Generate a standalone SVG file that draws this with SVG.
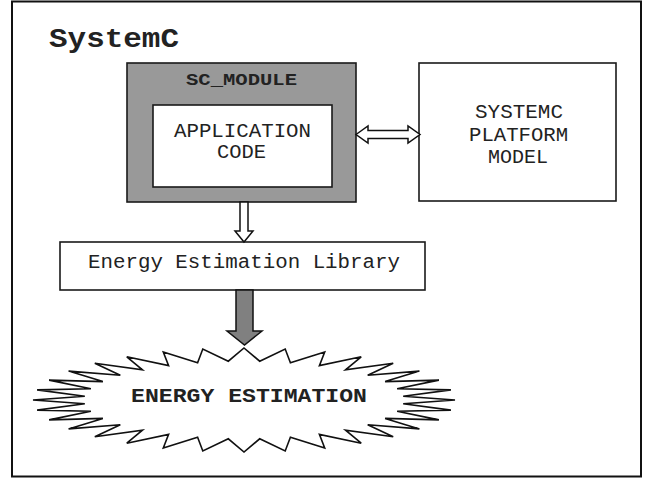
<svg xmlns="http://www.w3.org/2000/svg" width="655" height="479" viewBox="0 0 655 479">
<style>
.t{font-family:"Liberation Mono","Courier New",monospace;fill:#222;text-anchor:middle}
.b{font-weight:bold}
.box{stroke:#1a1a1a;stroke-width:1.6}
.arr{stroke:#111;stroke-width:1.5;stroke-linejoin:miter}
</style>
<rect width="655" height="479" fill="#fff"/>
<g id="frame">
<rect x="12" y="1.5" width="629" height="475" fill="none" stroke="#111" stroke-width="2"/>
<text class="t b" x="49" y="47" font-size="28" text-anchor="start" textLength="130" lengthAdjust="spacingAndGlyphs" style="text-anchor:start">SystemC</text>
</g>
<g id="sc_module">
<rect class="box" x="127" y="63" width="229" height="139" fill="#999"/>
<text class="t b" x="241.5" y="85" font-size="17" textLength="111" lengthAdjust="spacingAndGlyphs">SC_MODULE</text>
</g>
<g id="application_code">
<rect class="box" x="153" y="105" width="179" height="82" fill="#fff"/>
<text class="t" x="242.5" y="137" font-size="20" textLength="137" lengthAdjust="spacingAndGlyphs">APPLICATION</text>
<text class="t" x="241.5" y="158" font-size="20" textLength="49" lengthAdjust="spacingAndGlyphs">CODE</text>
</g>
<g id="platform_model">
<rect class="box" x="419" y="63" width="197" height="138" fill="#fff"/>
<text class="t" x="519" y="118" font-size="20" textLength="88" lengthAdjust="spacingAndGlyphs">SYSTEMC</text>
<text class="t" x="518.5" y="141" font-size="20" textLength="99" lengthAdjust="spacingAndGlyphs">PLATFORM</text>
<text class="t" x="518" y="163" font-size="20" textLength="60" lengthAdjust="spacingAndGlyphs">MODEL</text>
</g>
<g id="library">
<rect class="box" x="60" y="242" width="365" height="48" fill="#fff"/>
<text class="t" x="244" y="268" font-size="20" textLength="312" lengthAdjust="spacingAndGlyphs">Energy Estimation Library</text>
</g>
<g id="energy_estimation">
<polygon fill="#fff" stroke="#111" stroke-width="1.6" stroke-linejoin="miter" points="244,348 259.7,361.2 285.2,349 290.4,362.7 324.7,352 319.4,365.6 361.2,356.8 345.5,369.9 393.2,363.2 367.7,375.3 419.4,371.1 385.1,381.6 438.9,380.1 397.1,388.7 450.9,389.9 403.2,396.2 455,400 403.2,403.8 450.9,410.1 397.1,411.3 438.9,419.9 385.1,418.4 419.4,428.9 367.7,424.7 393.2,436.8 345.5,430.1 361.2,443.2 319.4,434.4 324.7,448 290.4,437.3 285.2,451 259.7,438.8 244,452 228.3,438.8 202.8,451 197.6,437.3 163.3,448 168.6,434.4 126.8,443.2 142.5,430.1 94.8,436.8 120.3,424.7 68.6,428.9 102.9,418.4 49.1,419.9 90.9,411.3 37.1,410.1 84.8,403.8 33,400 84.8,396.2 37.1,389.9 90.9,388.7 49.1,380.1 102.9,381.6 68.6,371.1 120.3,375.3 94.8,363.2 142.5,369.9 126.8,356.8 168.6,365.6 163.3,352 197.6,362.7 202.8,349 228.3,361.2"/>
<text class="t b" x="249" y="402" font-size="21" textLength="236" lengthAdjust="spacingAndGlyphs">ENERGY ESTIMATION</text>
</g>
<g id="connectors">
<polygon class="arr" fill="#fff" points="356,134.5 368,126 368,130.5 408,130.5 408,126 420,134.5 408,143 408,138.5 368,138.5 368,143"/>
<polygon class="arr" fill="#fff" points="240,202 248,202 248,231 253,231 244,242 235,231 240,231"/>
<polygon class="arr" fill="#808080" points="236,290 253,290 253,331 262,331 244.5,345 227,331 236,331"/>
</g>
</svg>
